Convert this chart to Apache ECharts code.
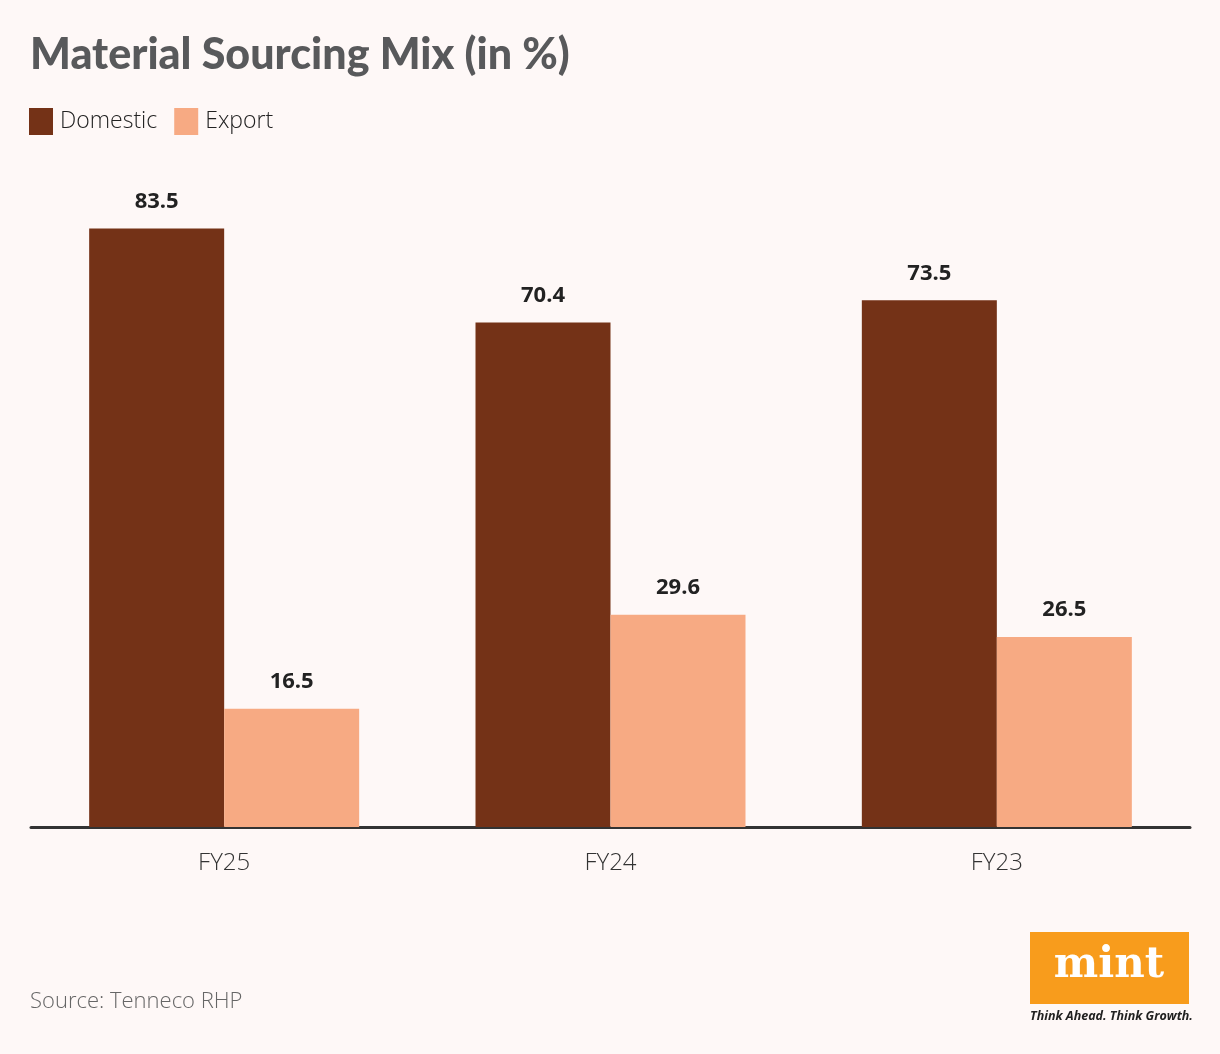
<!DOCTYPE html>
<html>
<head>
<meta charset="utf-8">
<script src="https://cdn.jsdelivr.net/npm/echarts@6/dist/echarts.min.js"></script>
<style>
	html, body { margin: 0; padding: 0; background: #fef8f7; }
	#chart { width: 1220px; height: 1054px; }
</style>
</head>
<body>
<div id="chart"></div>
<script>
// 数据
var years = ['FY25', 'FY24', 'FY23'];
var domestic = [83.5, 70.4, 73.5];
var exportVals = [16.5, 29.6, 26.5];

var myChart = echarts.init(document.getElementById('chart'));
var font = '"Open Sans", "Noto Sans", sans-serif';

var option = {
	backgroundColor: '#fef8f7',
	textStyle: { fontFamily: font },
	title: {
		text: 'Material Sourcing Mix (in %)',
		left: 30,
		top: 34,
		padding: 0,
		textStyle: { fontSize: 43, fontWeight: 900, color: '#58595b', fontFamily: 'Lato, "Open Sans", sans-serif' }
	},
	legend: {
		left: 29,
		top: 108,
		padding: 0,
		itemWidth: 24,
		itemHeight: 27,
		itemGap: 17,
		icon: 'rect',
		textStyle: { fontSize: 23, color: '#222', fontWeight: 300, padding: [0, 0, 0, 2] },
		data: ['Domestic', 'Export']
	},
	grid: { left: 31, right: 30, top: 182, bottom: 227 },
	xAxis: {
		type: 'category',
		data: years,
		axisLine: { lineStyle: { color: '#333', width: 3 } },
		axisTick: { alignWithLabel: true, length: 9, lineStyle: { color: '#333', width: 2 } },
		axisLabel: { fontSize: 24, color: '#333', margin: 24, fontWeight: 300 }
	},
	yAxis: {
		type: 'value',
		min: 0,
		max: 90,
		show: false
	},
	series: [{
		name: 'Domestic',
		type: 'bar',
		data: domestic,
		barWidth: 135,
		barGap: '0%',
		itemStyle: { color: '#743217' },
		label: { show: true, position: 'top', distance: 16, fontSize: 22, fontWeight: 'bold', color: '#222' }
	}, {
		name: 'Export',
		type: 'bar',
		data: exportVals,
		barWidth: 135,
		barGap: '0%',
		itemStyle: { color: '#f7aa83' },
		label: { show: true, position: 'top', distance: 16, fontSize: 22, fontWeight: 'bold', color: '#222' }
	}],
	graphic: [{
		type: 'text',
		left: 30,
		top: 991,
		style: { text: 'Source: Tenneco RHP', fontSize: 22, fill: '#666', fontFamily: font, fontWeight: 300 }
	}, {
		type: 'rect',
		left: 1030,
		top: 932,
		shape: { width: 159, height: 72 },
		style: { fill: '#f89c1c' }
	}, {
		type: 'text',
		x: 1109,
		y: 966,
		style: { text: 'mint', fontSize: 42, fontWeight: 'bold', fill: '#fff', fontFamily: '"DejaVu Serif", serif', align: 'center', verticalAlign: 'middle' }
	}, {
		type: 'text',
		left: 1030,
		top: 1010,
		style: { text: 'Think Ahead. Think Growth.', fontSize: 12.5, fontWeight: 'bold', fontStyle: 'italic', fill: '#222', fontFamily: font }
	}]
};

myChart.setOption(option);
</script>
</body>
</html>
